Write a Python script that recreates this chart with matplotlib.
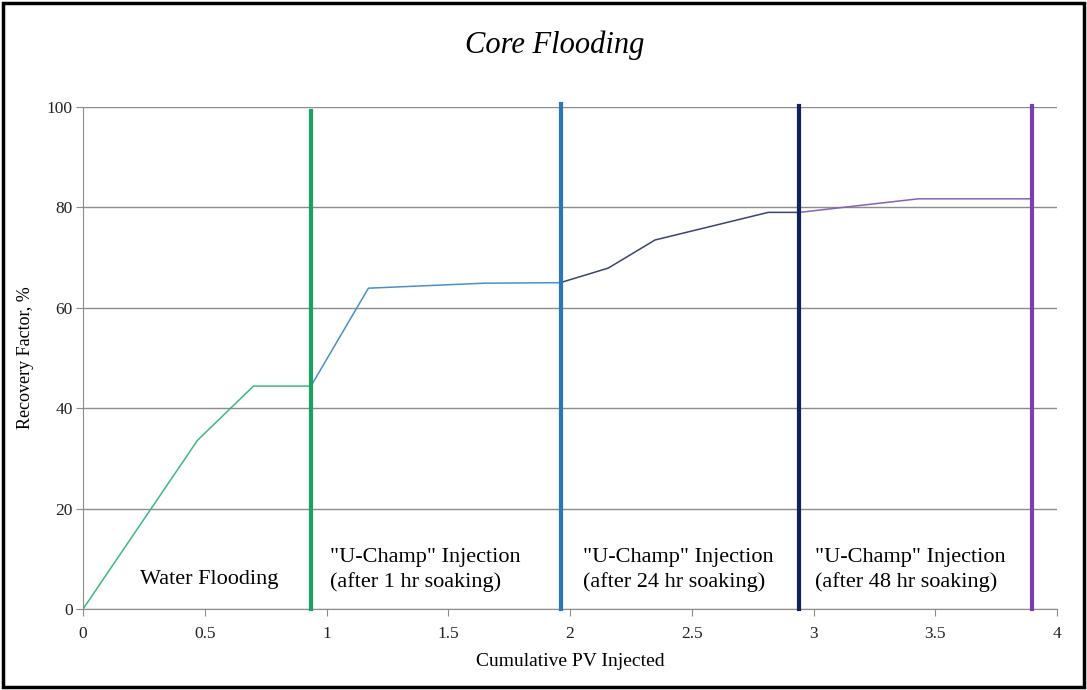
import matplotlib.pyplot as plt
from matplotlib.patches import Rectangle

plt.rcParams['font.family'] = ['Liberation Serif', 'DejaVu Serif']

# stage curves (cumulative PV injected, recovery factor %)
water_x = [0, 0.47, 0.70, 0.936]
water_y = [0, 33.6, 44.4, 44.4]
uc1_x = [0.936, 1.172, 1.65, 1.96]
uc1_y = [44.4, 63.9, 64.9, 65.0]
uc24_x = [1.96, 2.157, 2.349, 2.814, 2.942]
uc24_y = [65.0, 67.9, 73.5, 79.0, 79.0]
uc48_x = [2.942, 3.43, 3.896]
uc48_y = [79.0, 81.7, 81.7]

# stage boundaries
bound_x = [0.936, 1.963, 2.942, 3.897]
bound_top = [99.2, 100.6, 100.2, 100.2]
bound_colors = ['#1aa260', '#2878b8', '#13205e', '#7a3eb0']

stage_labels = ['Water Flooding',
                '"U-Champ" Injection\n(after 1 hr soaking)',
                '"U-Champ" Injection\n(after 24 hr soaking)',
                '"U-Champ" Injection\n(after 48 hr soaking)']
label_x = [0.52, 1.015, 2.053, 3.006]

fig = plt.figure(figsize=(10.87, 6.9), dpi=100)
ax = fig.add_axes([0.0764, 0.1174, 0.8960, 0.7276])

ax.plot(water_x, water_y, color='#3cb97e', lw=1.1)
ax.plot(uc1_x, uc1_y, color='#4a8fc8', lw=1.1)
ax.plot(uc24_x, uc24_y, color='#3b4373', lw=1.1)
ax.plot(uc48_x, uc48_y, color='#8463b8', lw=1.1)

for x, top, c in zip(bound_x, bound_top, bound_colors):
    ax.plot([x, x], [0, top], color=c, lw=3, clip_on=False, zorder=5)

ax.text(label_x[0], 5.8, stage_labels[0], fontsize=16, ha='center', va='center')
for lx, lab in zip(label_x[1:], stage_labels[1:]):
    ax.text(lx, 7.8, lab, fontsize=16, ha='left', va='center', linespacing=1.35)

ax.set_xlim(0, 4)
ax.set_ylim(0, 100)
ax.set_xticks([0, 0.5, 1, 1.5, 2, 2.5, 3, 3.5, 4])
ax.set_xticklabels(['0', '0.5', '1', '1.5', '2', '2.5', '3', '3.5', '4'])
ax.set_yticks(range(0, 101, 20))
ax.yaxis.grid(True, color='#8c8c8c', lw=1)
ax.set_axisbelow(True)
for s in ['top', 'right']:
    ax.spines[s].set_visible(False)
for s in ['left', 'bottom']:
    ax.spines[s].set_color('#8c8c8c')
ax.tick_params(colors='#8c8c8c', labelcolor='#222222', labelsize=12.5, length=5)
ax.tick_params(axis='y', pad=2.5)
ax.tick_params(axis='x', pad=7)

ax.set_xlabel('Cumulative PV Injected', fontsize=14, labelpad=8)
ax.set_ylabel('Recovery Factor, %', fontsize=13, labelpad=9)
fig.text(0.51, 0.935, 'Core Flooding', fontsize=22, style='italic',
         ha='center', va='center')

fig.patches.append(Rectangle((0.003, 0.004), 0.994, 0.992, transform=fig.transFigure,
                             fill=False, edgecolor='black', lw=2.5))

fig.savefig('out.png', dpi=100)
